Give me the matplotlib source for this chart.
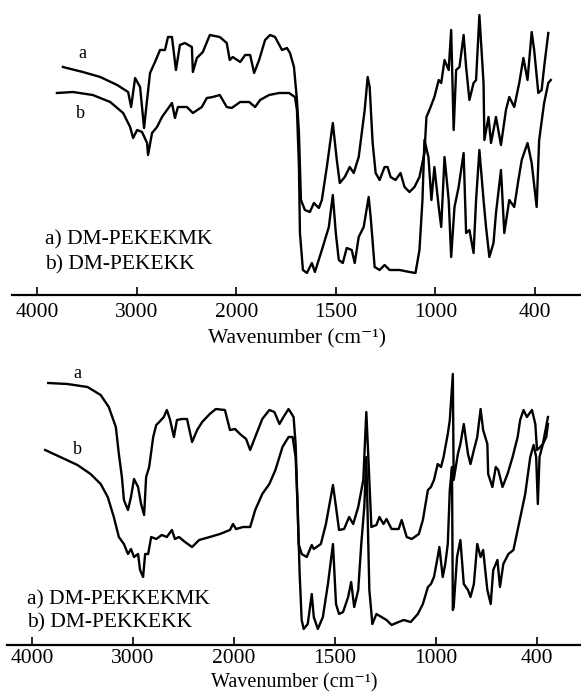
import numpy as np
import matplotlib
matplotlib.use("Agg")
import matplotlib.pyplot as plt

plt.rcParams['font.family'] = ['Liberation Serif', 'DejaVu Serif']

# ---- data (wavenumber in cm-1, transmittance in arb. units) ----
# upper panel, a) DM-PEKEKMK
top_a_wn = [3740, 3540, 3365, 3195, 3085, 3055, 3015, 2965, 2925, 2895, 2865, 2815, 2765,
            2715, 2685, 2645, 2605, 2565, 2515, 2445, 2435, 2395, 2335, 2265, 2165, 2095,
            2065, 2035, 1980, 1955, 1930, 1910, 1885, 1855, 1830, 1805, 1770, 1745, 1730,
            1710, 1695, 1685, 1675, 1655, 1630, 1610, 1585, 1570, 1545, 1515, 1495, 1480,
            1455, 1430, 1410, 1385, 1355, 1340, 1330, 1315, 1300, 1280, 1255, 1240, 1225,
            1200, 1175, 1155, 1130, 1105, 1080, 1055, 1045, 1030, 1005, 980, 965, 945, 920,
            905, 890, 875, 855, 830, 815, 795, 770, 755, 735, 710, 705, 680, 665, 635, 605,
            575, 555, 525, 495, 470, 445, 420, 405, 380, 360, 345, 320]
top_a_t = [228, 223, 218, 210, 203, 188, 217, 208, 167, 195, 222, 233, 245, 245, 258, 258,
           225, 250, 252, 248, 223, 237, 243, 260, 258, 252, 235, 238, 233, 240, 240, 222,
           235, 255, 260, 258, 245, 247, 242, 228, 195, 162, 95, 85, 83, 92, 87, 95, 128,
           172, 135, 112, 118, 128, 122, 138, 185, 218, 208, 152, 122, 115, 128, 128, 118,
           115, 122, 108, 103, 108, 118, 142, 178, 185, 198, 215, 212, 235, 225, 265, 165,
           225, 228, 260, 228, 195, 212, 215, 280, 212, 155, 178, 152, 178, 150, 185, 198,
           188, 212, 237, 215, 263, 245, 202, 205, 228, 262]

# upper panel, b) DM-PEKEKK
top_b_wn = [3800, 3640, 3440, 3265, 3135, 3065, 3035, 2995, 2945, 2895, 2885, 2845, 2795,
            2745, 2695, 2645, 2615, 2585, 2495, 2435, 2345, 2295, 2235, 2165, 2095, 2045,
            1980, 1935, 1905, 1880, 1835, 1785, 1735, 1705, 1695, 1685, 1680, 1665, 1645,
            1620, 1605, 1570, 1535, 1515, 1500, 1485, 1465, 1445, 1420, 1405, 1385, 1360,
            1335, 1325, 1305, 1280, 1255, 1230, 1180, 1130, 1100, 1080, 1065, 1055, 1035,
            1020, 1005, 980, 965, 945, 920, 905, 885, 860, 830, 815, 795, 770, 755, 735,
            710, 695, 675, 650, 635, 605, 585, 555, 525, 500, 480, 445, 420, 390, 375, 345,
            320, 305]
top_b_t = [202, 203, 200, 193, 182, 168, 157, 165, 163, 152, 140, 162, 168, 178, 185, 192,
           177, 188, 188, 182, 188, 197, 198, 200, 188, 187, 193, 193, 188, 195, 200, 202,
           202, 198, 185, 128, 62, 25, 22, 32, 23, 45, 68, 100, 62, 35, 32, 47, 45, 32, 58,
           68, 98, 78, 28, 25, 30, 25, 25, 23, 22, 45, 95, 155, 138, 95, 128, 88, 68, 138,
           95, 38, 88, 108, 142, 62, 65, 42, 95, 145, 95, 68, 38, 52, 82, 125, 62, 95, 88,
           115, 135, 152, 132, 88, 155, 192, 212, 215]

# lower panel, a) DM-PEKKEKMK
bot_a_wn = [3840, 3650, 3450, 3320, 3240, 3170, 3140, 3110, 3090, 3050, 3020, 2990, 2950,
            2920, 2890, 2870, 2840, 2800, 2770, 2740, 2695, 2665, 2635, 2595, 2565, 2515,
            2465, 2415, 2365, 2315, 2240, 2180, 2090, 2040, 1995, 1970, 1940, 1920, 1895,
            1860, 1825, 1800, 1775, 1755, 1730, 1705, 1695, 1685, 1680, 1665, 1640, 1615,
            1605, 1570, 1545, 1510, 1495, 1480, 1455, 1430, 1410, 1385, 1360, 1345, 1335,
            1320, 1295, 1280, 1260, 1245, 1220, 1185, 1170, 1145, 1120, 1085, 1065, 1040,
            1025, 1010, 990, 970, 955, 930, 918, 900, 895, 870, 855, 835, 810, 795, 775,
            755, 735, 720, 695, 690, 665, 645, 630, 605, 575, 545, 515, 500, 480, 460, 430,
            410, 400, 380, 365, 335]
bot_a_t = [262, 261, 258, 250, 238, 218, 191, 168, 145, 135, 148, 166, 158, 141, 130, 168,
           178, 208, 220, 223, 228, 235, 226, 208, 225, 226, 226, 203, 215, 223, 231, 236,
           235, 215, 216, 211, 206, 195, 208, 226, 235, 233, 221, 228, 236, 228, 201, 138,
           101, 91, 88, 100, 96, 101, 121, 160, 138, 115, 116, 128, 121, 138, 165, 233, 188,
           118, 120, 128, 121, 126, 116, 116, 125, 108, 106, 111, 125, 155, 158, 165, 181,
           178, 188, 211, 225, 271, 165, 191, 201, 221, 191, 181, 195, 208, 236, 215, 201,
           171, 158, 178, 175, 158, 171, 188, 208, 225, 235, 228, 235, 221, 195, 198, 201,
           228]

# lower panel, b) DM-PEKKEKK
bot_b_wn = [3870, 3720, 3550, 3420, 3320, 3250, 3190, 3140, 3090, 3050, 3020, 2990, 2950,
            2930, 2900, 2880, 2850, 2820, 2770, 2715, 2665, 2615, 2585, 2545, 2485, 2415,
            2345, 2240, 2140, 2040, 2010, 1990, 1955, 1920, 1895, 1860, 1825, 1795, 1760,
            1730, 1710, 1695, 1685, 1675, 1665, 1655, 1635, 1615, 1605, 1585, 1560, 1535,
            1510, 1495, 1480, 1460, 1435, 1420, 1405, 1385, 1370, 1355, 1345, 1330, 1315,
            1295, 1270, 1245, 1220, 1185, 1160, 1125, 1090, 1065, 1040, 1025, 1010, 990,
            980, 960, 945, 930, 918, 905, 900, 895, 875, 855, 835, 810, 795, 775, 755, 735,
            720, 695, 675, 660, 635, 620, 600, 570, 540, 515, 470, 440, 420, 405, 395, 385,
            365, 345, 335]
bot_b_t = [195, 188, 180, 171, 161, 148, 128, 108, 101, 91, 96, 88, 91, 75, 68, 91, 91,
           108, 106, 110, 108, 115, 106, 108, 103, 98, 105, 108, 111, 115, 121, 116, 118,
           118, 135, 151, 161, 175, 198, 208, 208, 188, 138, 71, 25, 16, 21, 51, 28, 16, 28,
           61, 101, 41, 31, 33, 48, 63, 38, 55, 101, 138, 188, 55, 21, 31, 28, 25, 20, 23,
           25, 23, 31, 41, 58, 61, 68, 88, 98, 68, 81, 101, 155, 178, 35, 38, 88, 105, 61,
           55, 48, 61, 101, 88, 95, 55, 41, 75, 85, 58, 81, 91, 95, 115, 151, 188, 200, 188,
           141, 188, 201, 208, 221]

tick_wn = [4000, 3000, 2000, 1500, 1000, 400]
top_names = ["a) DM-PEKEKMK", "b) DM-PEKEKK"]
bot_names = ["a) DM-PEKKEKMK", "b) DM-PEKKEKK"]
xlabel = "Wavenumber (cm\u207b\u00b9)"

# the spectrometer chart uses a stretched scale below 2000 cm-1:
# each labelled tick sits one equal step from the last (increasing with wavenumber)
tick_pos = [5, 4, 3, 2, 1, 0]


def _pw(x, xp, fp):
    # piecewise linear with linear extrapolation past both ends
    x = np.asarray(x, dtype=float)
    xp = np.asarray(xp, dtype=float)
    fp = np.asarray(fp, dtype=float)
    order = np.argsort(xp)
    xp, fp = xp[order], fp[order]
    y = np.interp(x, xp, fp)
    lo = x < xp[0]
    hi = x > xp[-1]
    y = np.where(lo, fp[0] + (x - xp[0]) * (fp[1] - fp[0]) / (xp[1] - xp[0]), y)
    y = np.where(hi, fp[-1] + (x - xp[-1]) * (fp[-1] - fp[-2]) / (xp[-1] - xp[-2]), y)
    return y


def forward(wn):
    return _pw(wn, tick_wn, tick_pos)


def inverse(u):
    return _pw(u, tick_pos, tick_wn)


fig = plt.figure(figsize=(5.81, 6.95), dpi=100)
W, H = 581, 695

FS = 15.5
LW = 1.7


def make_panel(rect, u_left, u_right, ytop, a_wn, a_t, b_wn, b_t, names, name_xy,
               lab_a, lab_b, tpad, lpad, lfs):
    ax = fig.add_axes(rect)
    ax.set_xscale('function', functions=(forward, inverse))
    ax.plot(a_wn, a_t, color='black', lw=LW, solid_joinstyle='round')
    ax.plot(b_wn, b_t, color='black', lw=LW, solid_joinstyle='round')
    # u_left/u_right are measured from the 4000 tick towards lower wavenumber
    ax.set_xlim(float(inverse(5 - u_left)), float(inverse(5 - u_right)))
    ax.set_ylim(0, ytop)
    for s in ['top', 'left', 'right']:
        ax.spines[s].set_visible(False)
    ax.spines['bottom'].set_linewidth(1.6)
    ax.set_yticks([])
    ax.set_xticks(tick_wn)
    ax.set_xticklabels([str(t) for t in tick_wn])
    ax.xaxis.set_minor_locator(matplotlib.ticker.NullLocator())
    ax.tick_params(axis='x', direction='in', length=6, width=1.2, labelsize=FS, pad=tpad)
    ax.set_xlabel(xlabel, fontsize=lfs, labelpad=lpad)
    # legend text
    ax.text(name_xy[0], name_xy[1], names[0], transform=ax.transAxes, fontsize=FS,
            ha='left', va='center')
    ax.text(name_xy[0], name_xy[2], names[1], transform=ax.transAxes, fontsize=FS,
            ha='left', va='center')
    # curve labels
    ax.text(lab_a[0], lab_a[1], 'a', transform=ax.transAxes, fontsize=13, ha='center', va='center')
    ax.text(lab_b[0], lab_b[1], 'b', transform=ax.transAxes, fontsize=13, ha='center', va='center')
    return ax


# upper panel: axis line spans x 12..581 px, baseline at y 295 px
top_rect = [12 / W, (H - 295) / H, 569 / W, 295 / H]
make_panel(top_rect, (12 - 37) / 99.6, (581 - 37) / 99.6, 295,
           top_a_wn, top_a_t, top_b_wn, top_b_t, top_names,
           ((45 - 12) / 569, (295 - 240) / 295, (295 - 265) / 295),
           ((82 - 12) / 569, (295 - 53) / 295), ((80 - 12) / 569, (295 - 113) / 295),
           tpad=6, lpad=5, lfs=FS)

# lower panel: axis line spans x 7..581 px, baseline near y 645 px
BASE = 645
bot_rect = [7 / W, (H - BASE) / H, 574 / W, (BASE - 350) / H]
make_panel(bot_rect, (7 - 32) / 101.0, (581 - 32) / 101.0, BASE - 350,
           bot_a_wn, bot_a_t, bot_b_wn, bot_b_t, bot_names,
           ((27 - 7) / 574, (BASE - 600) / (BASE - 350), (BASE - 623) / (BASE - 350)),
           ((77 - 7) / 574, (BASE - 373) / (BASE - 350)),
           ((77 - 7) / 574, (BASE - 450) / (BASE - 350)),
           tpad=3, lpad=4, lfs=14.5)

fig.savefig('out.png', dpi=100)
